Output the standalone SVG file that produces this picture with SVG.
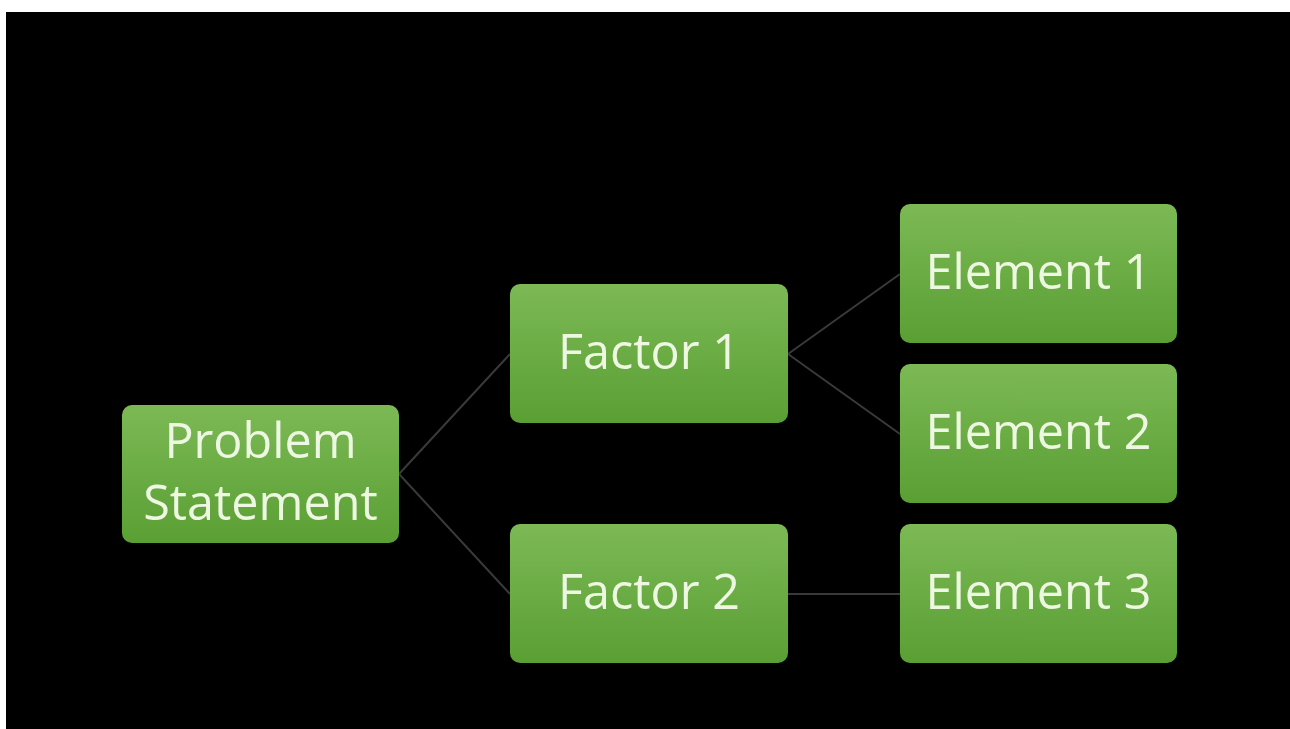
<svg xmlns="http://www.w3.org/2000/svg" width="1290" height="729" viewBox="0 0 1290 729">
  <defs>
    <linearGradient id="boxFill" x1="0" y1="0" x2="0" y2="1">
      <stop offset="0" stop-color="#7cb955"/>
      <stop offset="1" stop-color="#5a9f34"/>
    </linearGradient>
    <style>
      .box { fill: url(#boxFill); }
      .label { font-family: "Open Sans", "Noto Sans", sans-serif; font-size: 48.5px; fill: #eef7e2; text-anchor: middle; }
      .link { stroke: #3a3a3a; stroke-width: 2; fill: none; }
    </style>
  </defs>

  <!-- page margin and dark slide -->
  <rect x="0" y="0" width="1290" height="729" fill="#ffffff"/>
  <rect x="6" y="12" width="1284" height="717" fill="#000000"/>

  <!-- tree links -->
  <g id="connectors">
    <line class="link" x1="399" y1="474" x2="510" y2="354"/>
    <line class="link" x1="399" y1="474" x2="510" y2="594"/>
    <line class="link" x1="788" y1="354" x2="900" y2="274"/>
    <line class="link" x1="788" y1="354" x2="900" y2="434"/>
    <line class="link" x1="788" y1="594" x2="900" y2="594"/>
  </g>

  <g id="problem-statement">
    <rect class="box" x="122" y="405" width="277" height="138" rx="10"/>
    <text class="label" x="260.5" y="458">Problem</text>
    <text class="label" x="260.5" y="520">Statement</text>
  </g>

  <g id="factor-1">
    <rect class="box" x="510" y="284" width="278" height="139" rx="10"/>
    <text class="label" x="649" y="369">Factor 1</text>
  </g>

  <g id="factor-2">
    <rect class="box" x="510" y="524" width="278" height="139" rx="10"/>
    <text class="label" x="649" y="609">Factor 2</text>
  </g>

  <g id="element-1">
    <rect class="box" x="900" y="204" width="277" height="139" rx="10"/>
    <text class="label" x="1038.5" y="289">Element 1</text>
  </g>

  <g id="element-2">
    <rect class="box" x="900" y="364" width="277" height="139" rx="10"/>
    <text class="label" x="1038.5" y="449">Element 2</text>
  </g>

  <g id="element-3">
    <rect class="box" x="900" y="524" width="277" height="139" rx="10"/>
    <text class="label" x="1038.5" y="609">Element 3</text>
  </g>
</svg>
